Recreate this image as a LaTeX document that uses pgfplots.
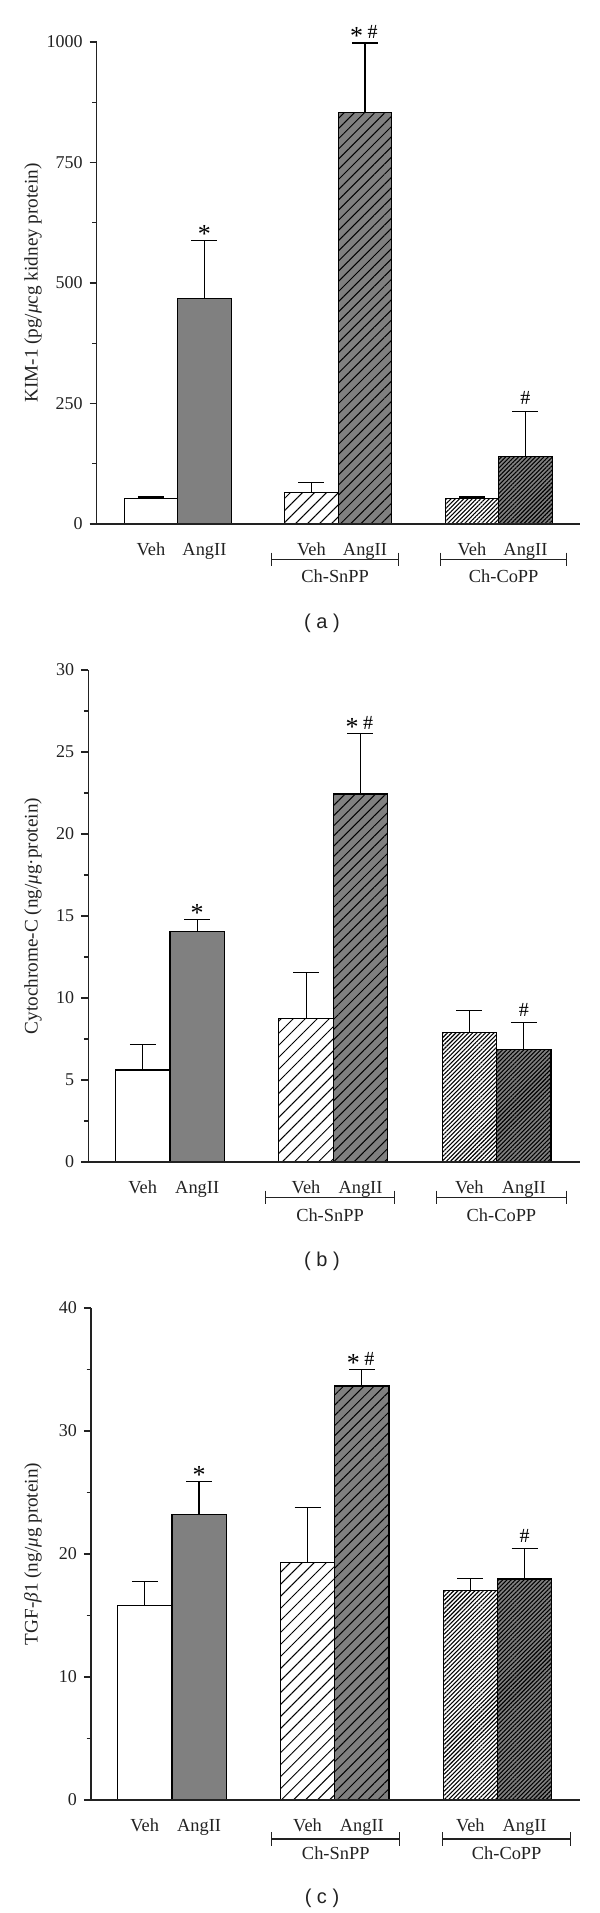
\documentclass[border=0pt]{standalone}
\usepackage{fontspec}
\setmainfont{Liberation Serif}
\newfontfamily\sansf{Liberation Sans}
\usepackage{pgfplots}
\pgfplotsset{compat=1.18}
\usetikzlibrary{patterns.meta}
\definecolor{bargray}{HTML}{808080}
\definecolor{axc}{HTML}{222222}
\newcommand{\st}{{\fontsize{13}{13}\selectfont *}}
\newcommand{\hs}{{\fontsize{10}{10}\selectfont\#}}
\newcommand{\sth}{\st\hspace{2.25pt}\raisebox{3pt}{\hs}}
\tikzset{grplab/.style={anchor=base, font=\fontsize{9.2}{10}\selectfont, text=axc}}
\pgfplotsset{
  panel/.style={
    scale only axis, anchor=south west,
    axis x line*=bottom, axis y line*=left,
    axis line style={-, line width=0.65pt, axc},
    x axis line style={draw=none},
    ymin=0, enlargelimits=false, clip=false,
    tick align=outside, major tick length=3.5pt, minor tick length=2.2pt,
    y tick style={line width=0.6pt, axc},
    minor y tick num=1,
    xtick={0.8333,1.1667,1.8333,2.1667,2.8333,3.1667},
    xticklabels={Veh,AngII,Veh,AngII,Veh,AngII},
    x tick style={draw=none},
    xticklabel style={anchor=base, yshift=-12.2pt, font=\fontsize{9.2}{10}\selectfont, text=axc},
    yticklabel style={font=\fontsize{9}{10}\selectfont, text=axc},
    /pgf/number format/assume math mode=true,
    /pgf/number format/1000 sep={},
    ylabel style={anchor=center, font=\fontsize{9.6}{10}\selectfont, text=axc},
  },
  kbar/.style={ybar, bar width=0.3333, bar shift=0pt, draw=black, line width=0.6pt,
    error bars/y dir=plus, error bars/y explicit,
    error bars/error bar style={line width=0.55pt, black},
    error bars/error mark options={rotate=90, mark size=6.5pt, line width=0.55pt, black}},
  vehplain/.style={kbar, fill=white},
  angplain/.style={kbar, fill=bargray},
  snveh/.style={kbar, fill=white, postaction={pattern={Lines[angle=45,distance=4.25pt,line width=0.5pt]}, pattern color=black}},
  snang/.style={kbar, fill=bargray, postaction={pattern={Lines[angle=45,distance=3.6pt,line width=0.5pt]}, pattern color=black}},
  coveh/.style={kbar, fill=white, postaction={pattern={Lines[angle=45,distance=1.5pt,line width=0.55pt]}, pattern color=black}},
  coang/.style={kbar, fill=bargray, postaction={pattern={Lines[angle=45,distance=1.5pt,line width=0.55pt]}, pattern color=black}},
}
\begin{document}
\begin{tikzpicture}
\useasboundingbox (0,0) rectangle (300pt,956.5pt);

% ---------------- panel (a) ----------------
\begin{axis}[panel, at={(48.35pt,694.5pt)}, width=241.65pt, height=241pt,
  xmin=0.4953, xmax=3.5065, ymax=1000, ytick={0,250,500,750,1000},
  ylabel={KIM-1 (pg/\textit{μ}cg kidney protein)},
  ylabel style={at={(axis description cs:-0.1318,0.5)}}]
\addplot[vehplain] coordinates {(0.8333,53) +- (0,3)};
\addplot[angplain] coordinates {(1.1667,468) +- (0,120)};
\addplot[snveh] coordinates {(1.8333,65) +- (0,21)};
\addplot[snang] coordinates {(2.1667,853) +- (0,145)};
\addplot[coveh] coordinates {(2.8333,53) +- (0,3)};
\addplot[coang] coordinates {(3.1667,140) +- (0,94)};
\draw[line width=0.65pt, axc] ([xshift=-3.35pt]axis cs:0.4953,0) -- (axis cs:3.5065,0);
\node[anchor=base, yshift=-0.8pt] at (axis cs:1.1667,588) {\st};
\node[anchor=base, yshift=-1pt, xshift=-0.6pt] at (axis cs:2.1667,998) {\sth};
\node[anchor=base, yshift=3.1pt] at (axis cs:3.1667,234) {\hs};
\draw[line width=0.6pt, axc]
  ([yshift=-14.35pt]axis cs:1.586,0) -- ([yshift=-20.95pt]axis cs:1.586,0)
  ([yshift=-17.65pt]axis cs:1.586,0) -- ([yshift=-17.65pt]axis cs:2.376,0)
  ([yshift=-14.35pt]axis cs:2.376,0) -- ([yshift=-20.95pt]axis cs:2.376,0)
  ([yshift=-14.35pt]axis cs:2.638,0) -- ([yshift=-20.95pt]axis cs:2.638,0)
  ([yshift=-17.65pt]axis cs:2.638,0) -- ([yshift=-17.65pt]axis cs:3.424,0)
  ([yshift=-14.35pt]axis cs:3.424,0) -- ([yshift=-20.95pt]axis cs:3.424,0);
\node[grplab] at ([yshift=-29.35pt]axis cs:1.981,0) {Ch-SnPP};
\node[grplab] at ([yshift=-29.35pt]axis cs:3.031,0) {Ch-CoPP};
\end{axis}
\node[font=\sansf\fontsize{10}{12}\selectfont, text=axc] at (161pt,644.75pt) {( a )};

% ---------------- panel (b) ----------------
\begin{axis}[panel, at={(44.15pt,375.5pt)}, width=245.85pt, height=246pt,
  xmin=0.4997, xmax=3.511, ymax=30, ytick={0,5,10,15,20,25,30},
  ylabel={Cytochrome-C (ng/\textit{μ}g·protein)},
  ylabel style={at={(axis description cs:-0.1125,0.5)}}]
\addplot[vehplain] coordinates {(0.8333,5.61) +- (0,1.57)};
\addplot[angplain] coordinates {(1.1667,14.04) +- (0,0.72)};
\addplot[snveh] coordinates {(1.8333,8.73) +- (0,2.82)};
\addplot[snang] coordinates {(2.1667,22.44) +- (0,3.69)};
\addplot[coveh] coordinates {(2.8333,7.88) +- (0,1.37)};
\addplot[coang] coordinates {(3.1667,6.86) +- (0,1.64)};
\draw[line width=0.65pt, axc] ([xshift=-3.45pt]axis cs:0.4997,0) -- (axis cs:3.511,0);
\node[anchor=base, yshift=-0.8pt] at (axis cs:1.1667,14.76) {\st};
\node[anchor=base, yshift=-1pt, xshift=-0.6pt] at (axis cs:2.1667,26.13) {\sth};
\node[anchor=base, yshift=3.1pt] at (axis cs:3.1667,8.50) {\hs};
\draw[line width=0.6pt, axc]
  ([yshift=-14.35pt]axis cs:1.585,0) -- ([yshift=-20.95pt]axis cs:1.585,0)
  ([yshift=-17.65pt]axis cs:1.585,0) -- ([yshift=-17.65pt]axis cs:2.376,0)
  ([yshift=-14.35pt]axis cs:2.376,0) -- ([yshift=-20.95pt]axis cs:2.376,0)
  ([yshift=-14.35pt]axis cs:2.634,0) -- ([yshift=-20.95pt]axis cs:2.634,0)
  ([yshift=-17.65pt]axis cs:2.634,0) -- ([yshift=-17.65pt]axis cs:3.429,0)
  ([yshift=-14.35pt]axis cs:3.429,0) -- ([yshift=-20.95pt]axis cs:3.429,0);
\node[grplab] at ([yshift=-29.6pt]axis cs:1.98,0) {Ch-SnPP};
\node[grplab] at ([yshift=-29.6pt]axis cs:3.03,0) {Ch-CoPP};
\end{axis}
\node[font=\sansf\fontsize{10}{12}\selectfont, text=axc] at (161pt,326pt) {( b )};

% ---------------- panel (c) ----------------
\begin{axis}[panel, at={(45.5pt,56.5pt)}, width=244.5pt, height=246pt,
  xmin=0.503, xmax=3.507, ymax=40, ytick={0,10,20,30,40},
  ylabel={TGF-\textit{β}1 (ng/\textit{μ}g protein)},
  ylabel style={at={(axis description cs:-0.1186,0.5)}}]
\addplot[vehplain] coordinates {(0.8333,15.79) +- (0,1.98)};
\addplot[angplain] coordinates {(1.1667,23.18) +- (0,2.70)};
\addplot[snveh] coordinates {(1.8333,19.32) +- (0,4.45)};
\addplot[snang] coordinates {(2.1667,33.66) +- (0,1.36)};
\addplot[coveh] coordinates {(2.8333,17.01) +- (0,0.99)};
\addplot[coang] coordinates {(3.1667,17.97) +- (0,2.47)};
\draw[line width=0.65pt, axc] ([xshift=-3.4pt]axis cs:0.503,0) -- (axis cs:3.507,0);
\node[anchor=base, yshift=-0.8pt] at (axis cs:1.1667,25.88) {\st};
\node[anchor=base, yshift=-1pt, xshift=-0.6pt] at (axis cs:2.1667,35.02) {\sth};
\node[anchor=base, yshift=3.1pt] at (axis cs:3.1667,20.44) {\hs};
\draw[line width=0.6pt, axc]
  ([yshift=-16.2pt]axis cs:1.613,0) -- ([yshift=-22.8pt]axis cs:1.613,0)
  ([yshift=-19.5pt]axis cs:1.613,0) -- ([yshift=-19.5pt]axis cs:2.400,0)
  ([yshift=-16.2pt]axis cs:2.400,0) -- ([yshift=-22.8pt]axis cs:2.400,0)
  ([yshift=-16.2pt]axis cs:2.662,0) -- ([yshift=-22.8pt]axis cs:2.662,0)
  ([yshift=-19.5pt]axis cs:2.662,0) -- ([yshift=-19.5pt]axis cs:3.451,0)
  ([yshift=-16.2pt]axis cs:3.451,0) -- ([yshift=-22.8pt]axis cs:3.451,0);
\node[grplab] at ([yshift=-29.8pt]axis cs:2.0065,0) {Ch-SnPP};
\node[grplab] at ([yshift=-29.8pt]axis cs:3.0565,0) {Ch-CoPP};
\end{axis}
\node[font=\sansf\fontsize{10}{12}\selectfont, text=axc] at (161pt,7.5pt) {( c )};
\end{tikzpicture}
\end{document}
